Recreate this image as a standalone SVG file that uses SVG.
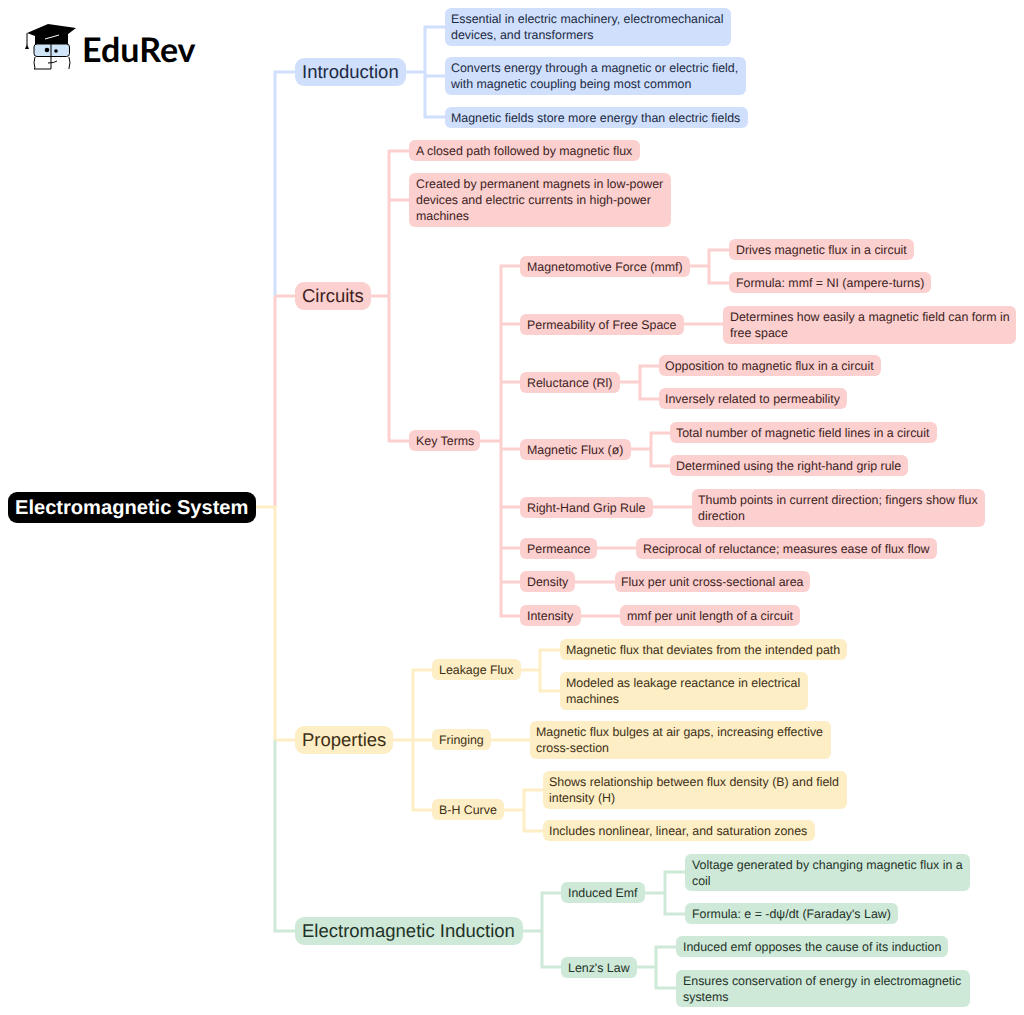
<svg xmlns="http://www.w3.org/2000/svg" width="1024" height="1015" viewBox="0 0 1024 1015">
<style>
text{font-family:"Liberation Sans",Arial,sans-serif;font-size:12.4px;text-rendering:geometricPrecision}
.l1{font-size:18.5px}
.root{font-weight:700;font-size:20.1px;fill:#fff}
.b rect{fill:#d0e0fc}.b text{fill:#1c2a44}
.r rect{fill:#fbd0cf}.r text{fill:#3f1e1e}
.y rect{fill:#fdeec5}.y text{fill:#3e3016}
.g rect{fill:#cfe9d9}.g text{fill:#1f3328}
#connectors path{fill:none;stroke-width:3}
.cb{stroke:#d0e0fc}.cr{stroke:#fbd0cf}.cy{stroke:#fdeec5}.cg{stroke:#cfe9d9}
</style>
<rect width="1024" height="1015" fill="#fff"/>
<g id="connectors">
<path class="cb" d="M295 72H275V296M406 72H425M445 27H425V117H445M425 76H445"/>
<path class="cr" d="M275 296H295M275 296V507M371 296H389M409 151H389V441H409M389 200H409M480 441H501M520 266H501V616H520M501 324H520M501 382H520M501 449H520M501 507H520M501 548H520M501 582H520M690 266H709M729 250H709V283H729M684 324H723M620 382H640M659 366H640V399H659M631 449H651M670 433H651V466H670M653 507H692M597 548H636M575 582H615M581 616H620"/>
<path class="cy" d="M256 507H275V740H295M393 740H413M432 670H413V810H432M413 740H432M521 670H540M560 650H540V691H560M491 740H530M504 810H524M543 790H524V831H543"/>
<path class="cg" d="M275 740V931H295M523 931H542M561 893H542V967H561M645 893H665M685 872H665V914H685M637 967H656M676 947H656V988H676"/>
</g>
<g id="logo">
<path d="M27 33L48 24L76 28L59 41L35 36Z" fill="#000"/>
<path d="M35 36V44H68V34" fill="#000"/>
<path d="M27 33V45" stroke="#000" stroke-width="1" fill="none"/>
<path d="M25 49L27 44L29 49Z" fill="#000"/>
<rect x="34" y="44" width="35.500" height="12.500" rx="3" fill="#cfe4f7" stroke="#000" stroke-width="1"/>
<path d="M51 44V69" stroke="#000" stroke-width="1" fill="none"/>
<circle cx="47" cy="50" r="2.300" fill="#000"/><circle cx="56" cy="51" r="1.800" fill="#000"/>
<path d="M35 57Q33 63 35 68L34 69H51M69 57Q71 63 69 68V69M48 63Q54 63 57 61" stroke="#000" stroke-width="1" fill="none"/>
<path d="M45 39L59 35" stroke="#fff" stroke-width="1" fill="none"/>
<text x="82" y="62" style="font-family:Lato,sans-serif;font-weight:700;font-size:34px;fill:#000">EduRev</text>
</g>
<g id="root"><rect x="8" y="492" width="248" height="31" rx="9" fill="#000"/><text class="root" x="15" y="514">Electromagnetic System</text></g>
<g id="introduction" class="b"><rect x="295" y="58" width="111" height="28" rx="9"/><text class="l1" x="302" y="78">Introduction</text></g>
<g id="i1" class="b"><rect x="445" y="8" width="286" height="38" rx="6"/><text x="451" y="23">Essential in electric machinery, electromechanical</text><text x="451" y="39">devices, and transformers</text></g>
<g id="i2" class="b"><rect x="445" y="57" width="301" height="38" rx="6"/><text x="451" y="72">Converts energy through a magnetic or electric field,</text><text x="451" y="88">with magnetic coupling being most common</text></g>
<g id="i3" class="b"><rect x="445" y="107" width="303" height="21" rx="6"/><text x="451" y="122">Magnetic fields store more energy than electric fields</text></g>
<g id="circuits" class="r"><rect x="295" y="282" width="76" height="28" rx="9"/><text class="l1" x="302" y="302">Circuits</text></g>
<g id="c1" class="r"><rect x="409" y="140" width="231" height="21" rx="6"/><text x="416" y="155">A closed path followed by magnetic flux</text></g>
<g id="c2" class="r"><rect x="409" y="173" width="262" height="54" rx="6"/><text x="416" y="188">Created by permanent magnets in low-power</text><text x="416" y="204">devices and electric currents in high-power</text><text x="416" y="220">machines</text></g>
<g id="keyterms" class="r"><rect x="409" y="430" width="71" height="21" rx="6"/><text x="416" y="445">Key Terms</text></g>
<g id="mmf" class="r"><rect x="520" y="256" width="170" height="21" rx="6"/><text x="527" y="271">Magnetomotive Force (mmf)</text></g>
<g id="mmf1" class="r"><rect x="729" y="239" width="185" height="21" rx="6"/><text x="736" y="254">Drives magnetic flux in a circuit</text></g>
<g id="mmf2" class="r"><rect x="729" y="272" width="202" height="21" rx="6"/><text x="736" y="287">Formula: mmf = NI (ampere-turns)</text></g>
<g id="perm" class="r"><rect x="520" y="314" width="164" height="21" rx="6"/><text x="527" y="329">Permeability of Free Space</text></g>
<g id="perm1" class="r"><rect x="723" y="306" width="293" height="38" rx="6"/><text x="730" y="321">Determines how easily a magnetic field can form in</text><text x="730" y="337">free space</text></g>
<g id="rel" class="r"><rect x="520" y="372" width="100" height="21" rx="6"/><text x="527" y="387">Reluctance (Rl)</text></g>
<g id="rel1" class="r"><rect x="659" y="355" width="222" height="21" rx="6"/><text x="665" y="370">Opposition to magnetic flux in a circuit</text></g>
<g id="rel2" class="r"><rect x="659" y="388" width="188" height="21" rx="6"/><text x="665" y="403">Inversely related to permeability</text></g>
<g id="flux" class="r"><rect x="520" y="439" width="111" height="21" rx="6"/><text x="527" y="454">Magnetic Flux (ø)</text></g>
<g id="flux1" class="r"><rect x="670" y="422" width="267" height="21" rx="6"/><text x="676" y="437">Total number of magnetic field lines in a circuit</text></g>
<g id="flux2" class="r"><rect x="670" y="455" width="238" height="21" rx="6"/><text x="676" y="470">Determined using the right-hand grip rule</text></g>
<g id="rh" class="r"><rect x="520" y="497" width="133" height="21" rx="6"/><text x="527" y="512">Right-Hand Grip Rule</text></g>
<g id="rh1" class="r"><rect x="692" y="489" width="293" height="38" rx="6"/><text x="698" y="504">Thumb points in current direction; fingers show flux</text><text x="698" y="520">direction</text></g>
<g id="permeance" class="r"><rect x="520" y="538" width="77" height="21" rx="6"/><text x="527" y="553">Permeance</text></g>
<g id="permeance1" class="r"><rect x="636" y="538" width="301" height="21" rx="6"/><text x="643" y="553">Reciprocal of reluctance; measures ease of flux flow</text></g>
<g id="density" class="r"><rect x="520" y="571" width="55" height="21" rx="6"/><text x="527" y="586">Density</text></g>
<g id="density1" class="r"><rect x="615" y="571" width="195" height="21" rx="6"/><text x="621" y="586">Flux per unit cross-sectional area</text></g>
<g id="intensity" class="r"><rect x="520" y="605" width="61" height="21" rx="6"/><text x="527" y="620">Intensity</text></g>
<g id="intensity1" class="r"><rect x="620" y="605" width="180" height="21" rx="6"/><text x="627" y="620">mmf per unit length of a circuit</text></g>
<g id="properties" class="y"><rect x="295" y="726" width="98" height="28" rx="9"/><text class="l1" x="302" y="746">Properties</text></g>
<g id="leakage" class="y"><rect x="432" y="659" width="89" height="21" rx="6"/><text x="439" y="674">Leakage Flux</text></g>
<g id="leakage1" class="y"><rect x="560" y="639" width="287" height="21" rx="6"/><text x="566" y="654">Magnetic flux that deviates from the intended path</text></g>
<g id="leakage2" class="y"><rect x="560" y="672" width="248" height="38" rx="6"/><text x="566" y="687">Modeled as leakage reactance in electrical</text><text x="566" y="703">machines</text></g>
<g id="fringing" class="y"><rect x="432" y="729" width="59" height="21" rx="6"/><text x="439" y="744">Fringing</text></g>
<g id="fringing1" class="y"><rect x="530" y="721" width="301" height="38" rx="6"/><text x="536" y="736">Magnetic flux bulges at air gaps, increasing effective</text><text x="536" y="752">cross-section</text></g>
<g id="bh" class="y"><rect x="432" y="799" width="72" height="21" rx="6"/><text x="439" y="814">B-H Curve</text></g>
<g id="bh1" class="y"><rect x="543" y="771" width="304" height="38" rx="6"/><text x="549" y="786">Shows relationship between flux density (B) and field</text><text x="549" y="802">intensity (H)</text></g>
<g id="bh2" class="y"><rect x="543" y="820" width="272" height="21" rx="6"/><text x="549" y="835">Includes nonlinear, linear, and saturation zones</text></g>
<g id="induction" class="g"><rect x="295" y="917" width="228" height="28" rx="9"/><text class="l1" x="302" y="937">Electromagnetic Induction</text></g>
<g id="emf" class="g"><rect x="561" y="882" width="84" height="21" rx="6"/><text x="568" y="897">Induced Emf</text></g>
<g id="emf1" class="g"><rect x="685" y="854" width="285" height="37" rx="6"/><text x="692" y="869">Voltage generated by changing magnetic flux in a</text><text x="692" y="885">coil</text></g>
<g id="emf2" class="g"><rect x="685" y="903" width="213" height="21" rx="6"/><text x="692" y="918">Formula: e = -dψ/dt (Faraday's Law)</text></g>
<g id="lenz" class="g"><rect x="561" y="957" width="76" height="21" rx="6"/><text x="568" y="972">Lenz's Law</text></g>
<g id="lenz1" class="g"><rect x="676" y="936" width="272" height="21" rx="6"/><text x="683" y="951">Induced emf opposes the cause of its induction</text></g>
<g id="lenz2" class="g"><rect x="676" y="970" width="294" height="37" rx="6"/><text x="683" y="985">Ensures conservation of energy in electromagnetic</text><text x="683" y="1001">systems</text></g>
</svg>
